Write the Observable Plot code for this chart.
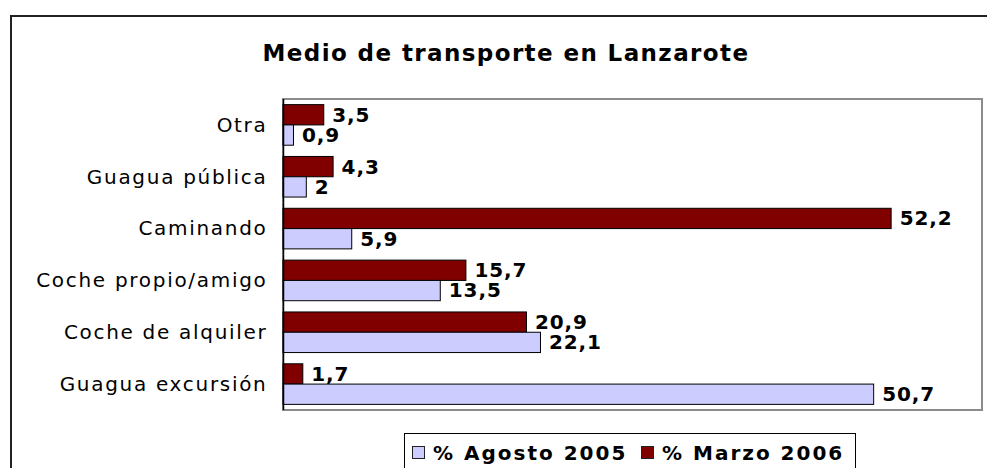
<!DOCTYPE html>
<html>
<head>
<meta charset="utf-8">
<script src="https://cdn.jsdelivr.net/npm/d3@7"></script>
<script src="https://cdn.jsdelivr.net/npm/@observablehq/plot@0.6"></script>
<style>
  html, body { margin: 0; padding: 0; background: #fff; }
  #wrap { position: relative; width: 987px; height: 468px; overflow: hidden; background: #fff; font-family: "DejaVu Sans", Verdana, sans-serif; }
  #outer { position: absolute; left: 10px; top: 15px; width: 1100px; height: 600px; border-left: 2px solid #222; border-top: 2px solid #222; }
  #area { position: absolute; left: 282px; top: 98px; width: 701px; height: 313px; border: 2px solid #8c8c8c; box-sizing: border-box; }
  #chart { position: absolute; left: 0; top: 0; }
  #title { position: absolute; left: 0; width: 1012px; top: 38px; text-align: center; font-weight: bold; font-size: 23px; letter-spacing: 1.4px; line-height: 30px; color: #000; }
  #legend { position: absolute; left: 404px; top: 433px; width: 452px; height: 60px; border: 1px solid #000; box-sizing: border-box; }
  .li { position: absolute; top: 7px; font-weight: bold; font-size: 20px; letter-spacing: 2px; line-height: 24px; white-space: nowrap; color: #000; }
  .sw { display: inline-block; width: 11px; height: 11px; border: 1px solid #222; vertical-align: 1px; margin-right: 8px; }
  svg g[aria-label="fy-axis tick label"] text, svg g[aria-label="fy-axis tick label"] { letter-spacing: 1.7px; }
  svg g[aria-label="text"] { letter-spacing: 0.9px; }
</style>
</head>
<body>
<div id="wrap">
  <div id="outer"></div>
  <div id="area"></div>
  <div id="chart"></div>
  <div id="title">Medio de transporte en Lanzarote</div>
  <div id="legend"></div>
</div>
<script>
const categories = ["Otra", "Guagua pública", "Caminando", "Coche propio/amigo", "Coche de alquiler", "Guagua excursión"];
const seriesNames = ["% Marzo 2006", "% Agosto 2005"];
const marzo2006 = [3.5, 4.3, 52.2, 15.7, 20.9, 1.7];
const agosto2005 = [0.9, 2, 5.9, 13.5, 22.1, 50.7];
const seriesColors = ["#800000", "#ccccff"];
const legendOrder = ["% Agosto 2005", "% Marzo 2006"];

const data = [];
categories.forEach((c, i) => {
  data.push({cat: c, series: seriesNames[0], value: marzo2006[i]});
  data.push({cat: c, series: seriesNames[1], value: agosto2005[i]});
});

const fmt = v => String(v).replace(".", ",");

const chart = Plot.plot({
  width: 987,
  height: 468,
  marginLeft: 283,
  marginRight: 5,
  marginTop: 99,
  marginBottom: 58,
  style: {fontFamily: "DejaVu Sans, Verdana, sans-serif", background: "transparent", color: "#000"},
  x: {domain: [0, 60], axis: null},
  y: {domain: seriesNames, axis: null, paddingInner: 0, paddingOuter: 0.277, round: false},
  fy: {domain: categories, padding: 0, label: null, axis: null, round: false},
  color: {domain: seriesNames, range: seriesColors},
  marks: [
    Plot.axisFy({anchor: "left", tickSize: 0, tickPadding: 16, fontSize: 20, label: null, fill: "#000"}),
    Plot.barX(data, {fy: "cat", y: "series", x: "value", fill: "series", stroke: "#000", strokeWidth: 1, inset: 0}),
    Plot.ruleX([0], {stroke: "#000", strokeWidth: 1.5}),
    Plot.text(data, {fy: "cat", y: "series", x: "value", text: d => fmt(d.value), dx: 8, textAnchor: "start", fontWeight: "bold", fontSize: 20, fill: "#000"})
  ]
});
document.getElementById("chart").appendChild(chart);

// legend
const leg = document.getElementById("legend");
const legLeft = [7, 236];
legendOrder.forEach((name, i) => {
  const item = document.createElement("div");
  item.className = "li";
  item.style.left = legLeft[i] + "px";
  const sw = document.createElement("span");
  sw.className = "sw";
  sw.style.background = seriesColors[seriesNames.indexOf(name)];
  item.appendChild(sw);
  item.appendChild(document.createTextNode(name));
  leg.appendChild(item);
});
</script>
</body>
</html>
